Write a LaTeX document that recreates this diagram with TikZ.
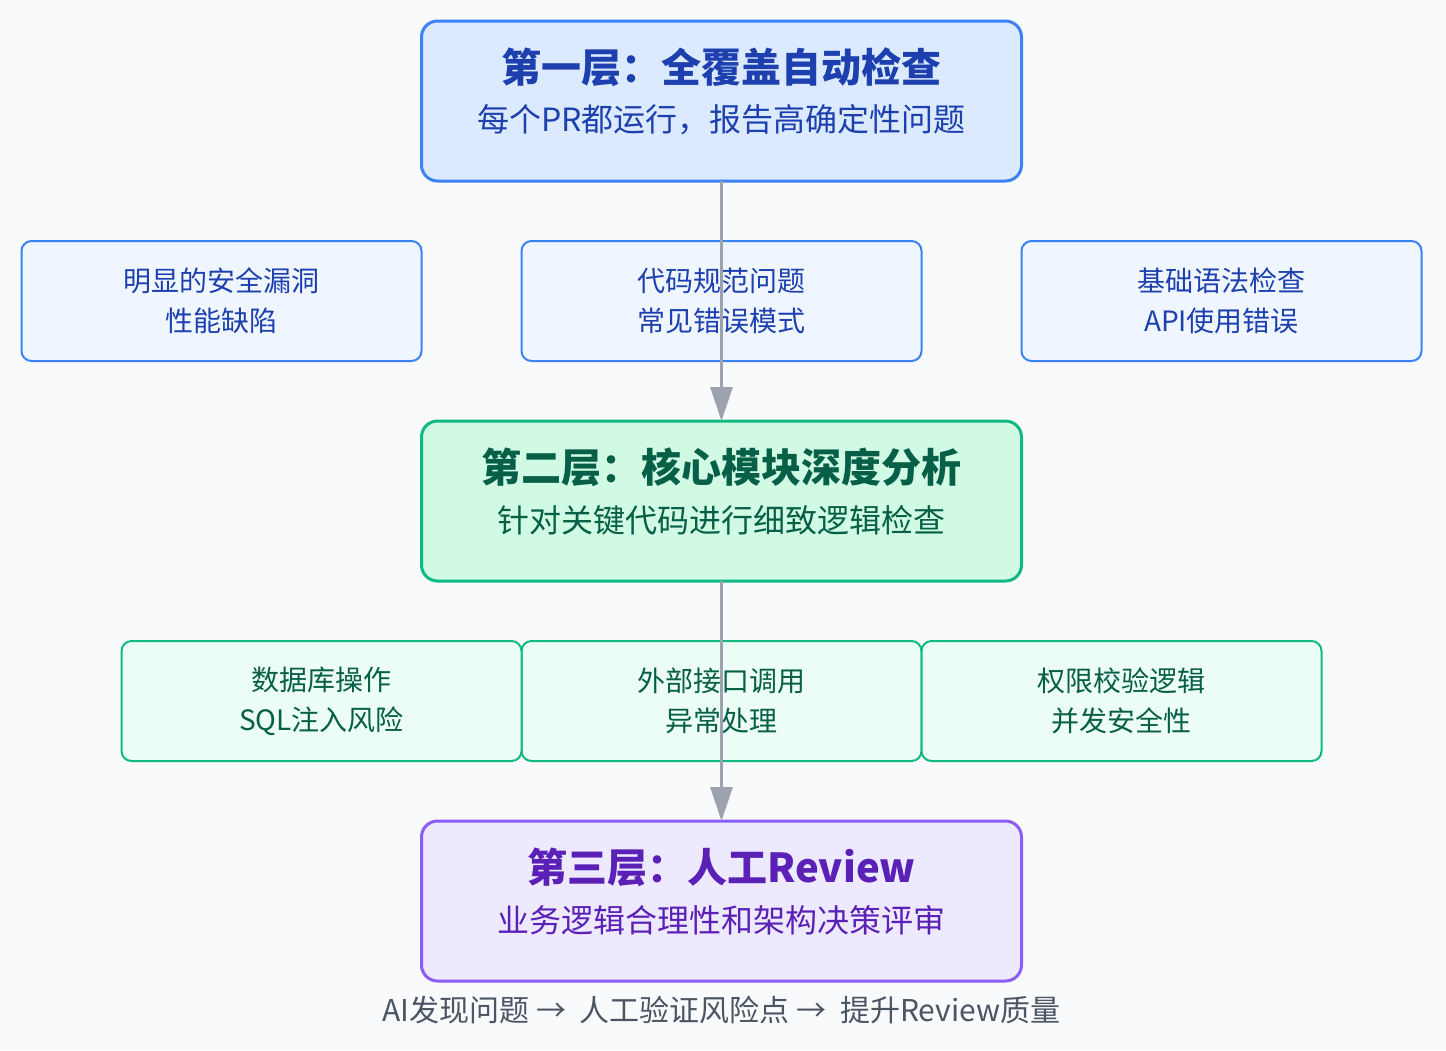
\documentclass[tikz,border=0pt]{standalone}
\usepackage{fontspec}
\setmainfont{Noto Sans CJK SC}
\usetikzlibrary{positioning,arrows.meta}
\definecolor{pagebg}{HTML}{F8FAFC}
\definecolor{blueline}{HTML}{3B82F6}
\definecolor{bluefill}{HTML}{DBEAFE}
\definecolor{bluelight}{HTML}{EFF6FF}
\definecolor{bluetext}{HTML}{1E40AF}
\definecolor{greenline}{HTML}{10B981}
\definecolor{greenfill}{HTML}{D1FAE5}
\definecolor{greenlight}{HTML}{ECFDF5}
\definecolor{greentext}{HTML}{065F46}
\definecolor{purpleline}{HTML}{8B5CF6}
\definecolor{purplefill}{HTML}{EDE9FE}
\definecolor{purpletext}{HTML}{5B21B6}
\definecolor{arrowgray}{HTML}{9CA3AF}
\definecolor{notegray}{HTML}{4B5563}

\begin{document}
\begin{tikzpicture}[
  x=0.5pt, y=-0.5pt, >={Triangle[length=17pt,width=11pt]},
  node distance=30pt and 50pt,
  layer/.style={draw, line width=1.5pt, rounded corners=8pt, outer sep=0pt, minimum width=300pt, minimum height=80pt},
  item/.style={draw, line width=1pt, rounded corners=5pt, outer sep=0pt, minimum width=200pt, minimum height=60pt, align=center, font=\fontsize{14}{20}\selectfont},
  ttl/.style={font=\fontsize{20}{24}\selectfont\bfseries},
  sub/.style={font=\fontsize{16}{20}\selectfont},
  flow/.style={->, draw=arrowgray, line width=1.5pt},
]
  \fill[pagebg] (0,0) rectangle (1446,1050);
  % layer 1
  \node[layer, draw=blueline, fill=bluefill] (l1) at (721.5,101) {};
  \node[ttl, text=bluetext] (l1t) at ([yshift=-23pt]l1.north) {第一层：全覆盖自动检查};
  \node[sub, text=bluetext] (l1s) at ([yshift=-49.5pt]l1.north) {每个PR都运行，报告高确定性问题};
  \node[item, draw=blueline, fill=bluelight, text=bluetext, below=of l1] (a2) {代码规范问题\\常见错误模式};
  \node[item, draw=blueline, fill=bluelight, text=bluetext, left=of a2] (a1) {明显的安全漏洞\\性能缺陷};
  \node[item, draw=blueline, fill=bluelight, text=bluetext, right=of a2] (a3) {基础语法检查\\API使用错误};
  % layer 2
  \node[layer, draw=greenline, fill=greenfill, below=of a2] (l2) {};
  \node[ttl, text=greentext] (l2t) at ([yshift=-23pt]l2.north) {第二层：核心模块深度分析};
  \node[sub, text=greentext] (l2s) at ([yshift=-49.5pt]l2.north) {针对关键代码进行细致逻辑检查};
  \node[item, draw=greenline, fill=greenlight, text=greentext, below=of l2] (b2) {外部接口调用\\异常处理};
  \node[item, draw=greenline, fill=greenlight, text=greentext, left=0pt of b2] (b1) {数据库操作\\SQL注入风险};
  \node[item, draw=greenline, fill=greenlight, text=greentext, right=0pt of b2] (b3) {权限校验逻辑\\并发安全性};
  % layer 3
  \node[layer, draw=purpleline, fill=purplefill, below=of b2] (l3) {};
  \node[ttl, text=purpletext] (l3t) at ([yshift=-23pt]l3.north) {第三层：人工Review};
  \node[sub, text=purpletext] (l3s) at ([yshift=-49.5pt]l3.north) {业务逻辑合理性和架构决策评审};
  \node[font=\fontsize{15}{18}\selectfont, text=notegray] (note) at ([yshift=-14.5pt]l3.south) {AI发现问题\ → \ 人工验证风险点\ → \ 提升Review质量};
  % flow
  \draw[flow] (l1) -- (l2);
  \draw[flow] (l2) -- (l3);
\end{tikzpicture}
\end{document}
